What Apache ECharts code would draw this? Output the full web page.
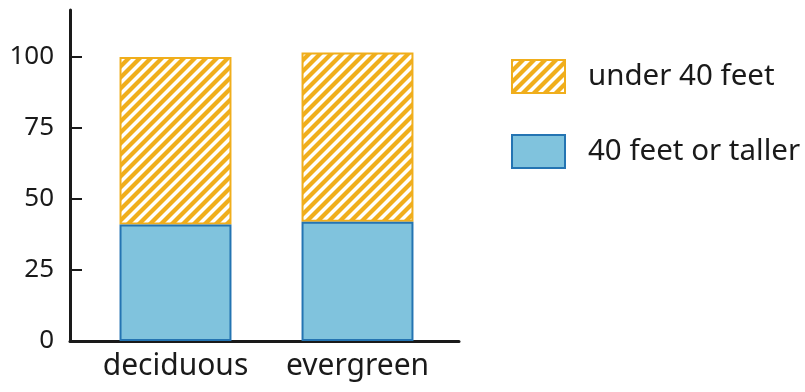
<!DOCTYPE html>
<html>
<head>
<meta charset="utf-8">
<style>
  html, body { margin: 0; padding: 0; background: #ffffff; }
  #chart { width: 805px; height: 392px; }
</style>
<script src="https://cdn.jsdelivr.net/npm/echarts@6/dist/echarts.min.js"></script>
</head>
<body>
<div id="chart"></div>
<script>
// Tree counts by height, per leaf type
const categories = ['deciduous', 'evergreen'];
const tallValues = [41, 42];        // 40 feet or taller
const shortValues = [59, 59.5];     // under 40 feet
const yTickValues = [0, 25, 50, 75, 100];
const seriesNames = ['under 40 feet', '40 feet or taller'];

const ORANGE = '#f0ae1c';
const BLUE_FILL = '#80c3dd';
const BLUE_EDGE = '#2474b2';
const INK = '#1a1a1a';
const FONT = '"Noto Sans", "Open Sans", sans-serif';

// diagonal "/" hatch tile for the short-tree segments
function hatchTile() {
  const s = 11;
  const c = document.createElement('canvas');
  c.width = s; c.height = s;
  const g = c.getContext('2d');
  g.fillStyle = '#ffffff';
  g.fillRect(0, 0, s, s);
  g.strokeStyle = ORANGE;
  g.lineWidth = 4.2;
  g.lineCap = 'square';
  for (let k = -1; k <= 1; k++) {
    g.beginPath();
    g.moveTo(k * s - 1, s + 1);
    g.lineTo(k * s + s + 1, -1);
    g.stroke();
  }
  return c;
}

const yMax = 116.5;
const chart = echarts.init(document.getElementById('chart'), null, { renderer: 'canvas' });

chart.setOption({
  animation: false,
  backgroundColor: '#ffffff',
  textStyle: { fontFamily: FONT },
  grid: [
    { left: 84.5, right: 356.5, top: 10, bottom: 51 },  // bars
    { left: 70, right: 346, top: 10, bottom: 51 }        // axis frame
  ],
  legend: {
    orient: 'vertical',
    left: 511,
    top: 59,
    padding: 0,
    icon: 'rect',
    itemWidth: 53,
    itemHeight: 33,
    itemGap: 40,
    data: seriesNames,
    textStyle: {
      fontFamily: FONT,
      fontSize: 29.5,
      color: INK,
      padding: [0, 0, 0, 18]
    }
  },
  xAxis: [
    {
      type: 'category',
      gridIndex: 0,
      data: categories,
      axisLine: { show: false },
      axisTick: { show: false },
      axisLabel: {
        interval: 0,
        hideOverlap: false,
        fontFamily: FONT,
        fontSize: 30,
        color: INK,
        margin: 10
      }
    },
    {
      type: 'value',
      gridIndex: 1,
      min: 0,
      max: 1,
      axisLine: { show: true, lineStyle: { color: INK, width: 3 } },
      axisTick: { show: false },
      axisLabel: { show: false },
      splitLine: { show: false }
    }
  ],
  yAxis: [
    {
      type: 'value',
      gridIndex: 0,
      min: 0,
      max: yMax,
      show: false,
      splitLine: { show: false }
    },
    {
      type: 'value',
      gridIndex: 1,
      min: 0,
      max: yMax,
      axisLine: { show: true, lineStyle: { color: INK, width: 3 } },
      axisTick: {
        show: true,
        inside: true,
        length: 12,
        lineStyle: { color: INK, width: 2 },
        customValues: yTickValues
      },
      axisLabel: {
        fontFamily: FONT,
        fontSize: 26,
        color: INK,
        margin: 16,
        customValues: yTickValues
      },
      splitLine: { show: false }
    }
  ],
  series: [
    {
      name: seriesNames[1],
      type: 'bar',
      xAxisIndex: 0,
      yAxisIndex: 0,
      stack: 'height',
      barCategoryGap: '38.5%',
      data: tallValues,
      itemStyle: { color: BLUE_FILL, borderColor: BLUE_EDGE, borderWidth: 2 },
      z: 2
    },
    {
      name: seriesNames[0],
      type: 'bar',
      xAxisIndex: 0,
      yAxisIndex: 0,
      stack: 'height',
      barCategoryGap: '38.5%',
      data: shortValues,
      itemStyle: {
        color: { image: hatchTile(), repeat: 'repeat' },
        borderColor: ORANGE,
        borderWidth: 2
      },
      z: 1
    }
  ]
});
</script>
</body>
</html>
